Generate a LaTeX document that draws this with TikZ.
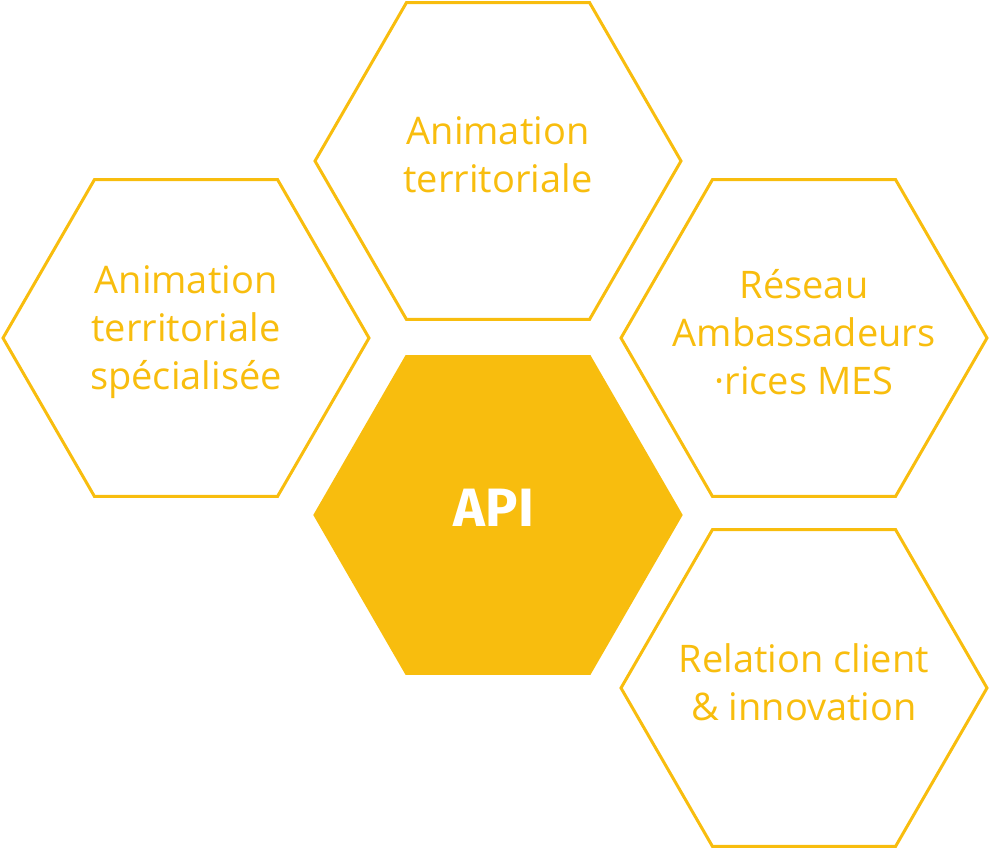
\documentclass[tikz,border=0pt]{standalone}
\usepackage{fontspec}
\setmainfont{Open Sans}
\newfontfamily\apifont{Fira Sans}
\usetikzlibrary{shapes.geometric}
\definecolor{honey}{HTML}{F8BD0E}
\tikzset{
  hexa/.style={regular polygon, regular polygon sides=6, shape border rotate=0,
    minimum size=366pt, inner sep=0pt, draw=honey, line width=3pt},
  hexafull/.style={hexa, fill=honey},
  hexatext/.style={text=honey, align=center, font=\fontsize{38}{48}\selectfont},
  apitext/.style={text=white, font=\apifont\bfseries\fontsize{54}{60}\selectfont}
}
\begin{document}
\begin{tikzpicture}[x=1pt,y=-1pt]
\useasboundingbox (0,0) rectangle (991,851);
\node[hexa] (top) at (498,161) {};
\node[hexa] (left) at (186,338) {};
\node[hexafull] (api) at (498,515) {};
\node[hexa] (reseau) at (804,338) {};
\node[hexa] (relation) at (804,688) {};
\node[hexatext] (toplabel) at (498,155) {Animation\\territoriale};
\node[hexatext] (leftlabel) at (186,332) {Animation\\territoriale\\spécialisée};
\node[apitext] (apilabel) at (494,508) {API};
\node[hexatext] (reseaulabel) at (804,332) {Réseau\\Ambassadeurs\\·rices MES};
\node[hexatext] (relationlabel) at (804,682) {Relation client\\\& innovation};
\end{tikzpicture}
\end{document}
